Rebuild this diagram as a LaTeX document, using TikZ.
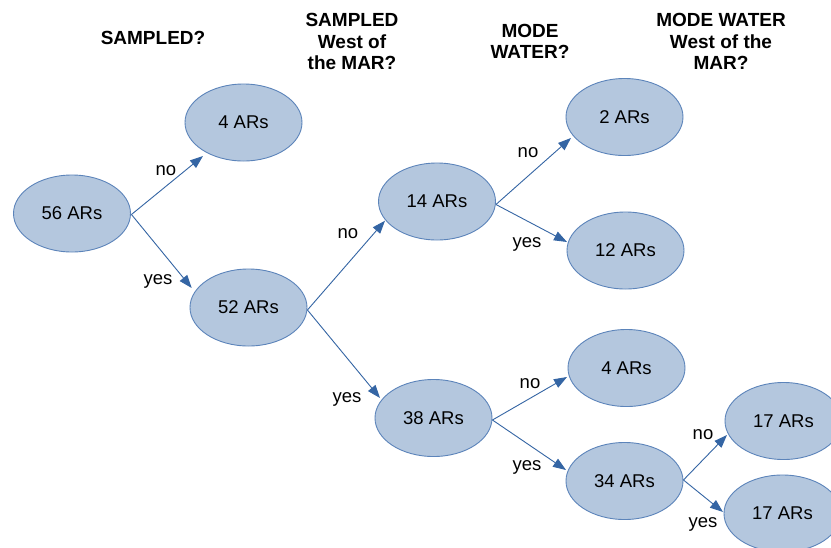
\documentclass[tikz,border=0pt]{standalone}
\usepackage{fontspec}
\setmainfont{Liberation Sans}
\usetikzlibrary{shapes.geometric,arrows.meta,calc}
\definecolor{ellfill}{RGB}{180,199,222}
\definecolor{elldraw}{RGB}{92,132,186}
\definecolor{arrcol}{RGB}{52,101,164}
\tikzset{
  arnode/.style={ellipse, draw=elldraw, fill=ellfill, line width=0.9pt,
    minimum width=117pt, minimum height=77pt, inner sep=0pt,
    font=\fontsize{18.5}{21}\selectfont},
  conn/.style={draw=arrcol, line width=0.9pt,
    -{Triangle[length=13pt,width=9.5pt]}},
  lbl/.style={inner sep=0pt, font=\fontsize{18.5}{21}\selectfont},
  hdr/.style={inner sep=0pt, align=center, font=\fontsize{19}{21.5}\selectfont\bfseries}
}
\begin{document}
\begin{tikzpicture}[x=1pt,y=-1pt]
\useasboundingbox (0,0) rectangle (831,547);
\clip (0,0) rectangle (831,547);
\fill[white] (0,0) rectangle (831,547);

% headers
\node[hdr] (h1) at (153,37.5) {SAMPLED?};
\node[hdr] (h2) at (352,41.5) {SAMPLED\\West of\\the MAR?};
\node[hdr] (h3) at (530,41.5) {MODE\\WATER?};
\node[hdr] (h4) at (721,41.5) {MODE WATER\\West of the\\MAR?};

% nodes
\node[arnode] (n56) at (72,213.5) {56 ARs};
\node[arnode] (n4a) at (243.5,122.5) {4 ARs};
\node[arnode] (n52) at (248.5,307.5) {52 ARs};
\node[arnode] (n14) at (437,201.5) {14 ARs};
\node[arnode] (n38) at (433.5,418) {38 ARs};
\node[arnode] (n2) at (624.5,117) {2 ARs};
\node[arnode] (n12) at (625.5,250.5) {12 ARs};
\node[arnode] (n4b) at (626.5,368) {4 ARs};
\node[arnode] (n34) at (624.5,481) {34 ARs};
\node[arnode] (n17a) at (783.5,421) {17 ARs};
\node[arnode] (n17b) at (782.5,513.5) {17 ARs};

% connectors
\draw[conn] ($(n56.east)+(0.5,1)$) -- ($(n4a)+(-40.5,33.5)$);
\draw[conn] ($(n56.east)+(0.5,1)$) -- ($(n52)+(-56.8,-19.5)$);
\draw[conn] ($(n52.east)+(0,2.5)$) -- ($(n14)+(-52,19.2)$);
\draw[conn] ($(n52.east)+(0,2.5)$) -- ($(n38)+(-53.5,-20)$);
\draw[conn] ($(n14.east)+(0,3)$) -- ($(n2)+(-53.5,21)$);
\draw[conn] ($(n14.east)+(0,3)$) -- ($(n12)+(-58.5,-8.5)$);
\draw[conn] ($(n38.east)+(0,2)$) -- ($(n4b)+(-59.5,9)$);
\draw[conn] ($(n38.east)+(0,2)$) -- ($(n34)+(-58.5,-11)$);
\draw[conn] ($(n34.east)+(0,-1)$) -- ($(n17a)+(-56.5,14)$);
\draw[conn] ($(n34.east)+(0,-1)$) -- ($(n17b)+(-59.5,-1.5)$);

% labels
\node[lbl] (l1) at (166,171) {no};
\node[lbl] (l2) at (158,281) {yes};
\node[lbl] (l3) at (348,234) {no};
\node[lbl] (l4) at (347,399) {yes};
\node[lbl] (l5) at (528,153) {no};
\node[lbl] (l6) at (527,244) {yes};
\node[lbl] (l7) at (530,384) {no};
\node[lbl] (l8) at (527,467) {yes};
\node[lbl] (l9) at (703,435) {no};
\node[lbl] (l10) at (703,524) {yes};
\end{tikzpicture}
\end{document}
